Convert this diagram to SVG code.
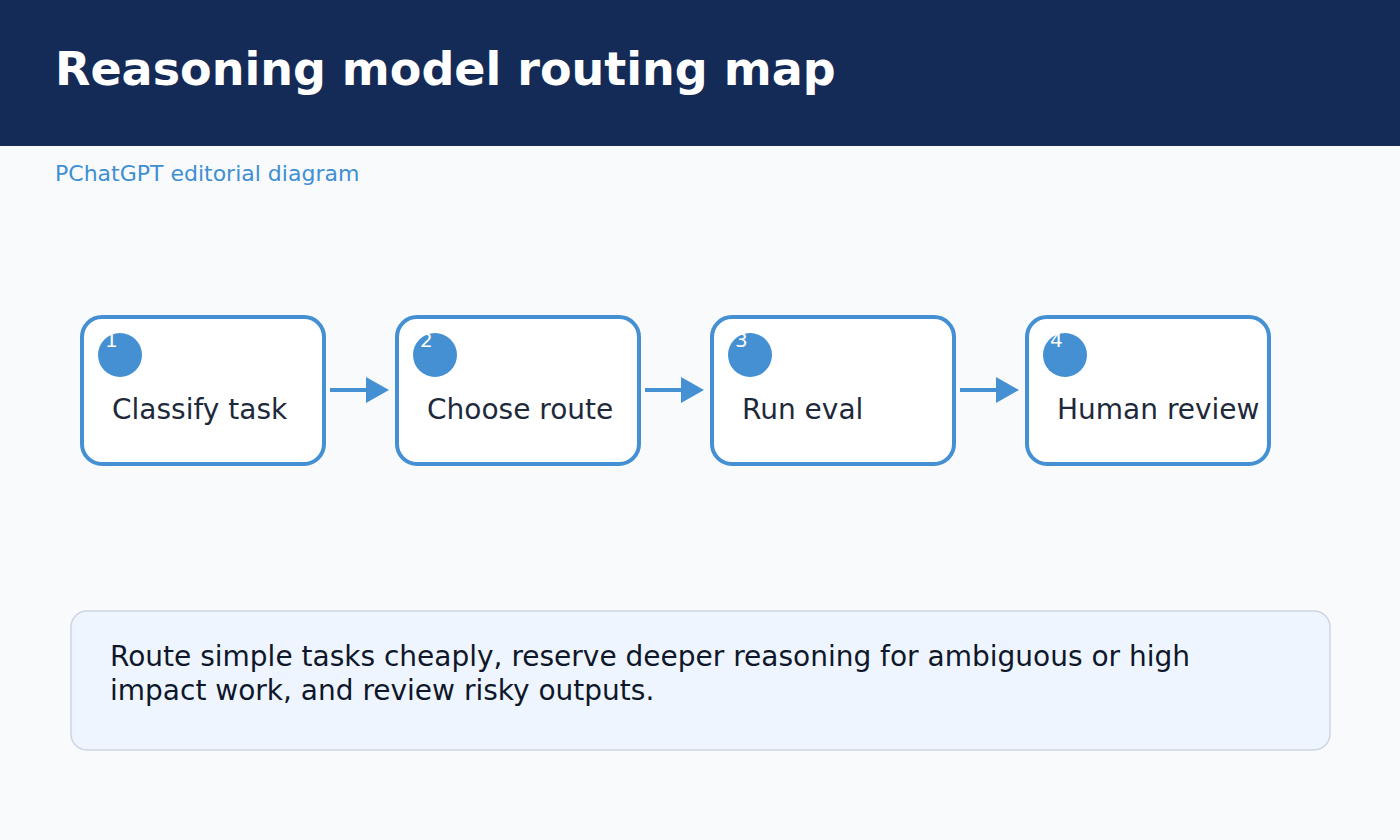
<svg xmlns="http://www.w3.org/2000/svg" width="1400" height="840" viewBox="0 0 1400 840">
<style>
text{font-family:"DejaVu Sans","Liberation Sans",sans-serif}
.node{fill:#fff;stroke:#4490d2;stroke-width:4}
.dot{fill:#4490d2}
.num{fill:#fff;font-size:20px}
.lbl{fill:#1e293b;font-size:28px}
.conn line{stroke:#4490d2;stroke-width:4}
.conn polygon{fill:#4490d2}
</style>
<rect width="1400" height="840" fill="#f8fafc"/>
<rect width="1400" height="146" fill="#142b57"/>
<text x="55" y="85" font-size="46" font-weight="bold" fill="#fff">Reasoning model routing map</text>
<text x="55" y="181" font-size="22" fill="#3f8fd2">PChatGPT editorial diagram</text>
<g id="node1"><rect class="node" x="82" y="317" width="242" height="147" rx="20"/><circle class="dot" cx="120" cy="355" r="22"/><text class="num" x="105" y="347">1</text><text class="lbl" x="112" y="419">Classify task</text></g>
<g id="node2"><rect class="node" x="397" y="317" width="242" height="147" rx="20"/><circle class="dot" cx="435" cy="355" r="22"/><text class="num" x="420" y="347">2</text><text class="lbl" x="427" y="419">Choose route</text></g>
<g id="node3"><rect class="node" x="712" y="317" width="242" height="147" rx="20"/><circle class="dot" cx="750" cy="355" r="22"/><text class="num" x="735" y="347">3</text><text class="lbl" x="742" y="419">Run eval</text></g>
<g id="node4"><rect class="node" x="1027" y="317" width="242" height="147" rx="20"/><circle class="dot" cx="1065" cy="355" r="22"/><text class="num" x="1050" y="347">4</text><text class="lbl" x="1057" y="419">Human review</text></g>
<g id="connectors" class="conn">
<line x1="330" y1="390" x2="372" y2="390"/><polygon points="366,377 389,390 366,403"/>
<line x1="645" y1="390" x2="687" y2="390"/><polygon points="681,377 704,390 681,403"/>
<line x1="960" y1="390" x2="1002" y2="390"/><polygon points="996,377 1019,390 996,403"/>
</g>
<g id="note"><rect x="71" y="611" width="1259" height="139" rx="16" fill="#eef5ff" stroke="#cbd5e1" stroke-width="1.5"/>
<text x="110" y="666" font-size="28" fill="#0f172a">Route simple tasks cheaply, reserve deeper reasoning for ambiguous or high</text>
<text x="110" y="700" font-size="28" fill="#0f172a">impact work, and review risky outputs.</text></g>
</svg>
